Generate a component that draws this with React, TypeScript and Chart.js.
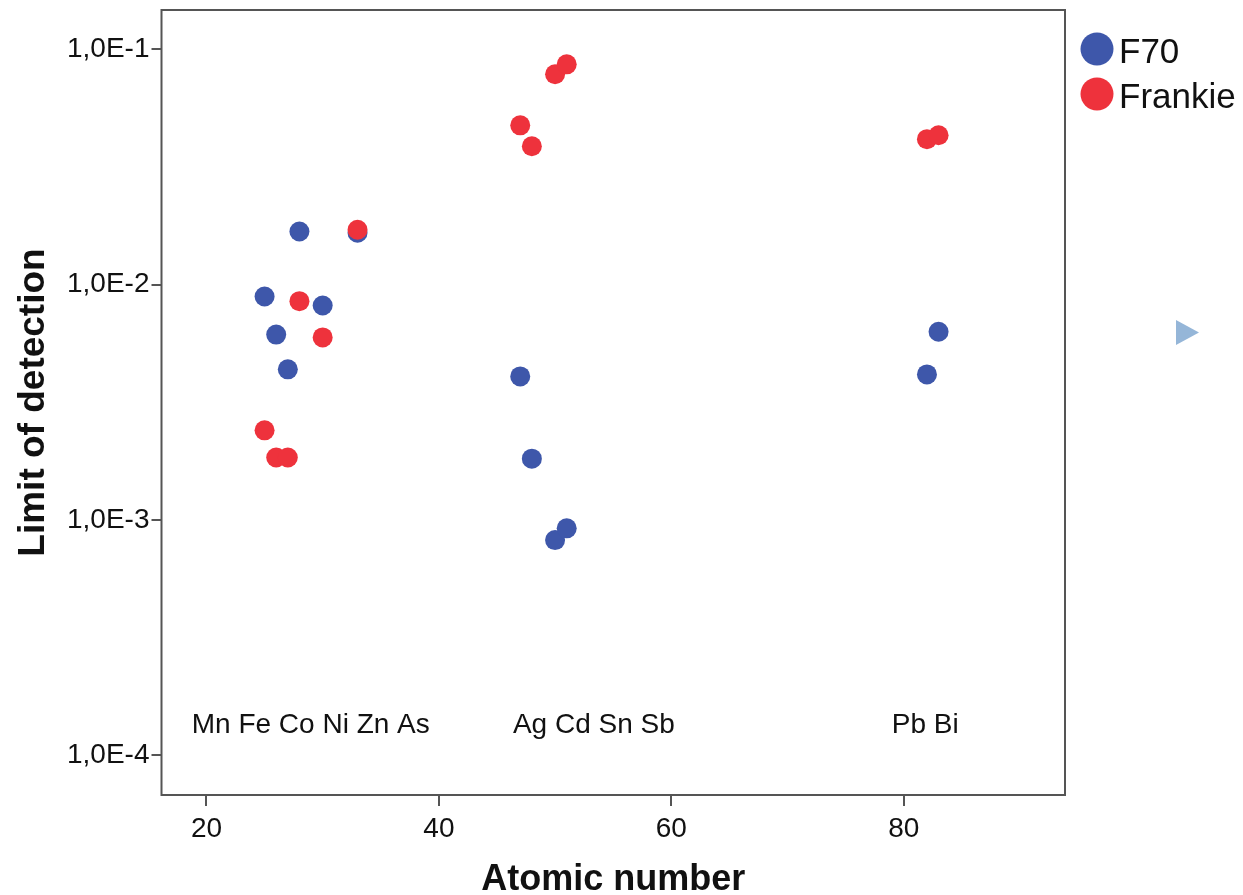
import React, { useEffect, useRef } from "react";
import { Chart, registerables } from "chart.js";

Chart.register(...registerables);

const atomicNumbers = [25, 26, 27, 28, 30, 33, 47, 48, 50, 51, 82, 83];
const f70Values = [0.0089, 0.00613, 0.00436, 0.0168, 0.00815, 0.0166, 0.00407, 0.00182, 0.00082, 0.00092, 0.00415, 0.0063];
const frankieValues = [0.0024, 0.00184, 0.00184, 0.0085, 0.00596, 0.0171, 0.0475, 0.0387, 0.0783, 0.0863, 0.0415, 0.0431];

const xTicks = [20, 40, 60, 80];
const yTicks = [1e-1, 1e-2, 1e-3, 1e-4];
const yTickLabels = ["1,0E-1", "1,0E-2", "1,0E-3", "1,0E-4"];

const elementGroupLabels = ["Mn Fe Co Ni Zn As", "Ag Cd Sn Sb", "Pb Bi"];
const elementGroupX = [18.73, 46.37, 78.97];
const elementGroupY = [1.24e-4, 1.24e-4, 1.24e-4];

const seriesNames = ["F70", "Frankie"];
const BLUE = "rgb(62,87,170)";
const RED = "rgb(238,50,60)";
const AXIS = "#555555";
const FONT = "'Liberation Sans', Arial, sans-serif";

const decorPlugin = {
  id: "decor",
  beforeDatasetsDraw(chart: any) {
    const { ctx, chartArea, scales } = chart;
    ctx.save();
    ctx.strokeStyle = AXIS;
    ctx.lineWidth = 2;
    ctx.strokeRect(chartArea.left, chartArea.top, chartArea.right - chartArea.left, chartArea.bottom - chartArea.top);
    ctx.fillStyle = "#111";
    ctx.font = `28px ${FONT}`;
    ctx.textBaseline = "alphabetic";
    ctx.textAlign = "left";
    elementGroupLabels.forEach((t, i) => {
      ctx.fillText(t, scales.x.getPixelForValue(elementGroupX[i]), scales.y.getPixelForValue(elementGroupY[i]));
    });
    ctx.restore();
  },
  afterDraw(chart: any) {
    const { ctx, chartArea } = chart;
    ctx.save();
    ctx.fillStyle = "#111";
    ctx.font = `bold 36px ${FONT}`;
    ctx.textAlign = "center";
    ctx.textBaseline = "alphabetic";
    ctx.fillText("Atomic number", (chartArea.left + chartArea.right) / 2, 890);
    ctx.save();
    ctx.translate(44, (chartArea.top + chartArea.bottom) / 2);
    ctx.rotate(-Math.PI / 2);
    ctx.font = `bold 37px ${FONT}`;
    ctx.fillText("Limit of detection", 0, 0);
    ctx.restore();
    const colors = [BLUE, RED];
    const ys = [49, 94];
    ctx.font = `35px ${FONT}`;
    ctx.textAlign = "left";
    ctx.textBaseline = "middle";
    seriesNames.forEach((n, i) => {
      ctx.fillStyle = colors[i];
      ctx.beginPath();
      ctx.arc(1097, ys[i], 16.5, 0, Math.PI * 2);
      ctx.fill();
      ctx.fillStyle = "#111";
      ctx.fillText(n, 1119, ys[i] + 4);
    });
    ctx.fillStyle = "rgb(149,182,216)";
    ctx.beginPath();
    ctx.moveTo(1176, 320);
    ctx.lineTo(1199, 332.5);
    ctx.lineTo(1176, 345);
    ctx.closePath();
    ctx.fill();
    ctx.restore();
  },
};

export default function App() {
  const ref = useRef<HTMLCanvasElement>(null);
  useEffect(() => {
    if (!ref.current) return;
    const chart = new Chart(ref.current, {
      type: "scatter",
      data: {
        datasets: [
          {
            label: seriesNames[0],
            data: atomicNumbers.map((x, i) => ({ x, y: f70Values[i] })),
            backgroundColor: BLUE,
            borderColor: BLUE,
            pointRadius: 10,
            borderWidth: 0,
            order: 1,
          },
          {
            label: seriesNames[1],
            data: atomicNumbers.map((x, i) => ({ x, y: frankieValues[i] })),
            backgroundColor: RED,
            borderColor: RED,
            pointRadius: 10,
            borderWidth: 0,
            order: 0,
          },
        ],
      },
      options: {
        responsive: false,
        animation: false,
        layout: { padding: { top: 8, right: 178, left: 0, bottom: 0 } },
        plugins: { legend: { display: false }, tooltip: { enabled: false } },
        scales: {
          x: {
            type: "linear",
            min: 16.13,
            max: 93.88,
            afterFit(s: any) {
              s.height = 100;
              s.paddingLeft = 0;
              s.paddingRight = 0;
            },
            afterBuildTicks(s: any) {
              s.ticks = xTicks.map((v) => ({ value: v }));
            },
            border: { display: false },
            grid: { drawOnChartArea: false, drawTicks: true, tickLength: 11, color: AXIS, lineWidth: 2 },
            ticks: {
              color: "#111",
              font: { family: FONT, size: 28 },
              padding: 6,
              callback: (v: any) => String(v),
            },
          },
          y: {
            type: "logarithmic",
            min: 6.766e-5,
            max: 0.1469,
            afterFit(s: any) {
              s.width = 161.5;
              s.paddingTop = 0;
              s.paddingBottom = 0;
            },
            afterBuildTicks(s: any) {
              s.ticks = yTicks.map((v) => ({ value: v }));
            },
            border: { display: false },
            grid: { drawOnChartArea: false, drawTicks: true, tickLength: 10, color: AXIS, lineWidth: 2 },
            ticks: {
              color: "#111",
              font: { family: FONT, size: 28 },
              padding: 2,
              callback: (v: any) => {
                const i = yTicks.findIndex((t) => Math.abs(t - v) / t < 1e-6);
                return i >= 0 ? yTickLabels[i] : "";
              },
            },
          },
        },
      },
      plugins: [decorPlugin],
    });
    return () => chart.destroy();
  }, []);
  return (
    <div style={{ position: "absolute", left: 0, top: 0, width: 1243, height: 895, background: "#fff" }}>
      <canvas ref={ref} width={1243} height={895} style={{ display: "block" }} />
    </div>
  );
}
